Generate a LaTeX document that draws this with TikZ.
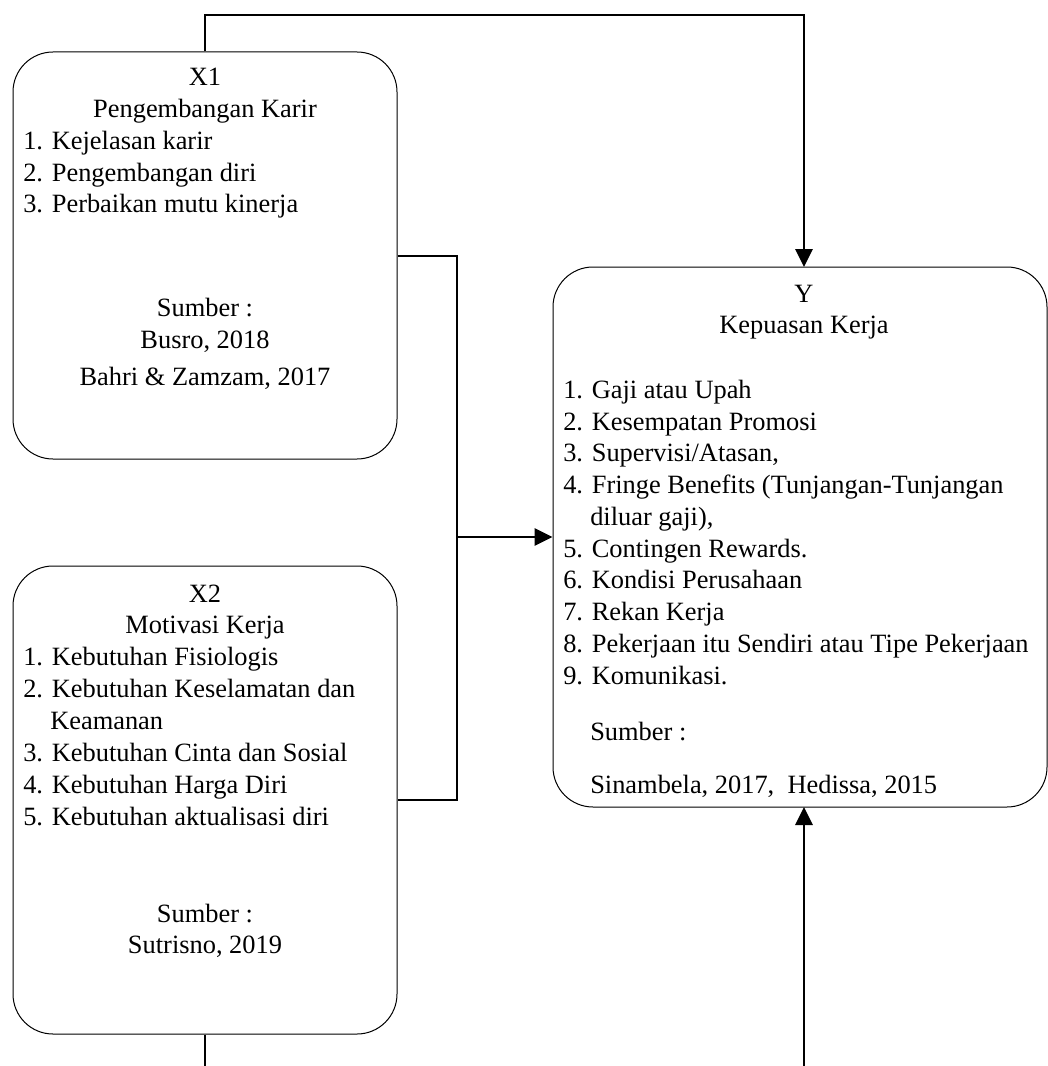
\documentclass[tikz,border=0pt]{standalone}
\usepackage{fontspec}
\setmainfont{Liberation Serif}
\usetikzlibrary{arrows.meta}

\begin{document}
\begin{tikzpicture}[x = 0.75pt, y = -0.75pt, font = \fontsize{19.8}{24}\selectfont]
	\tikzstyle{boxStyle} = [shape = rectangle, rounded corners = 30pt, draw, line width = 0.75pt, inner sep = 0pt]
	\tikzstyle{textStyle} = [inner sep = 0pt, anchor = base]
	\tikzstyle{itemStyle} = [inner sep = 0pt, anchor = base west]
	\tikzstyle{linkStyle} = [line width = 1.5pt]
	\tikzstyle{arrowStyle} = [line width = 1.5pt, -{Triangle[length = 13.5pt, width = 13pt]}]
	\useasboundingbox (0,0) rectangle (1048,1066);
	\node[boxStyle, minimum width = 288pt, minimum height = 305.25pt] (x1) at (205,255.5) {};
	\node[boxStyle, minimum width = 288pt, minimum height = 351pt] (x2) at (205,800) {};
	\node[boxStyle, minimum width = 370.5pt, minimum height = 405pt] (y) at (800,537) {};
	\node[textStyle] (x1Title) at (205,86) {X1};
	\node[textStyle] (x1Name) at (205,118) {Pengembangan Karir};
	\node[itemStyle] (x1i1) at (23,150) {1. Kejelasan karir};
	\node[itemStyle] (x1i2) at (23,182) {2. Pengembangan diri};
	\node[itemStyle] (x1i3) at (23,213) {3. Perbaikan mutu kinerja};
	\node[textStyle] (x1Src) at (205,316) {Sumber :};
	\node[textStyle] (x1Ref1) at (205,348) {Busro, 2018};
	\node[textStyle] (x1Ref2) at (205,385) {Bahri \& Zamzam, 2017};
	\node[textStyle] (x2Title) at (205,602) {X2};
	\node[textStyle] (x2Name) at (205,633) {Motivasi Kerja};
	\node[itemStyle] (x2i1) at (23,665) {1. Kebutuhan Fisiologis};
	\node[itemStyle] (x2i2) at (23,697) {2. Kebutuhan Keselamatan dan};
	\node[itemStyle] (x2i2b) at (50,729) {Keamanan};
	\node[itemStyle] (x2i3) at (23,761) {3. Kebutuhan Cinta dan Sosial};
	\node[itemStyle] (x2i4) at (23,793) {4. Kebutuhan Harga Diri};
	\node[itemStyle] (x2i5) at (23,825) {5. Kebutuhan aktualisasi diri};
	\node[textStyle] (x2Src) at (205,922) {Sumber :};
	\node[textStyle] (x2Ref1) at (205,953) {Sutrisno, 2019};
	\node[textStyle] (yTitle) at (804,302) {Y};
	\node[textStyle] (yName) at (804,333) {Kepuasan Kerja};
	\node[itemStyle] (yi1) at (563,398) {1. Gaji atau Upah};
	\node[itemStyle] (yi2) at (563,430) {2. Kesempatan Promosi};
	\node[itemStyle] (yi3) at (563,461) {3. Supervisi/Atasan,};
	\node[itemStyle] (yi4) at (563,493) {4. Fringe Benefits (Tunjangan-Tunjangan};
	\node[itemStyle] (yi4b) at (590,525) {diluar gaji),};
	\node[itemStyle] (yi5) at (563,557) {5. Contingen Rewards.};
	\node[itemStyle] (yi6) at (563,588) {6. Kondisi Perusahaan};
	\node[itemStyle] (yi7) at (563,620) {7. Rekan Kerja};
	\node[itemStyle] (yi8) at (563,652) {8. Pekerjaan itu Sendiri atau Tipe Pekerjaan};
	\node[itemStyle] (yi9) at (563,684) {9. Komunikasi.};
	\node[itemStyle] (ySrc) at (590,740) {Sumber :};
	\node[itemStyle] (yRef1) at (590,793) {Sinambela, 2017, \ Hedissa, 2015};
	\coordinate (join) at (457,537);
	\coordinate (yIn) at (804,267);
	\coordinate (yOut) at (804,807);
	\coordinate (yBottom) at (804,1066);
	\draw[arrowStyle] (x1.north) -- ++(0,-36) -| (yIn);
	\draw[linkStyle] (x1.east) -| (join) |- (x2.east);
	\draw[arrowStyle] (join) -- (y.west);
	\draw[linkStyle] (x2.south) -- ++(0,32);
	\draw[arrowStyle] (yBottom) -- (yOut);
\end{tikzpicture}
\end{document}
